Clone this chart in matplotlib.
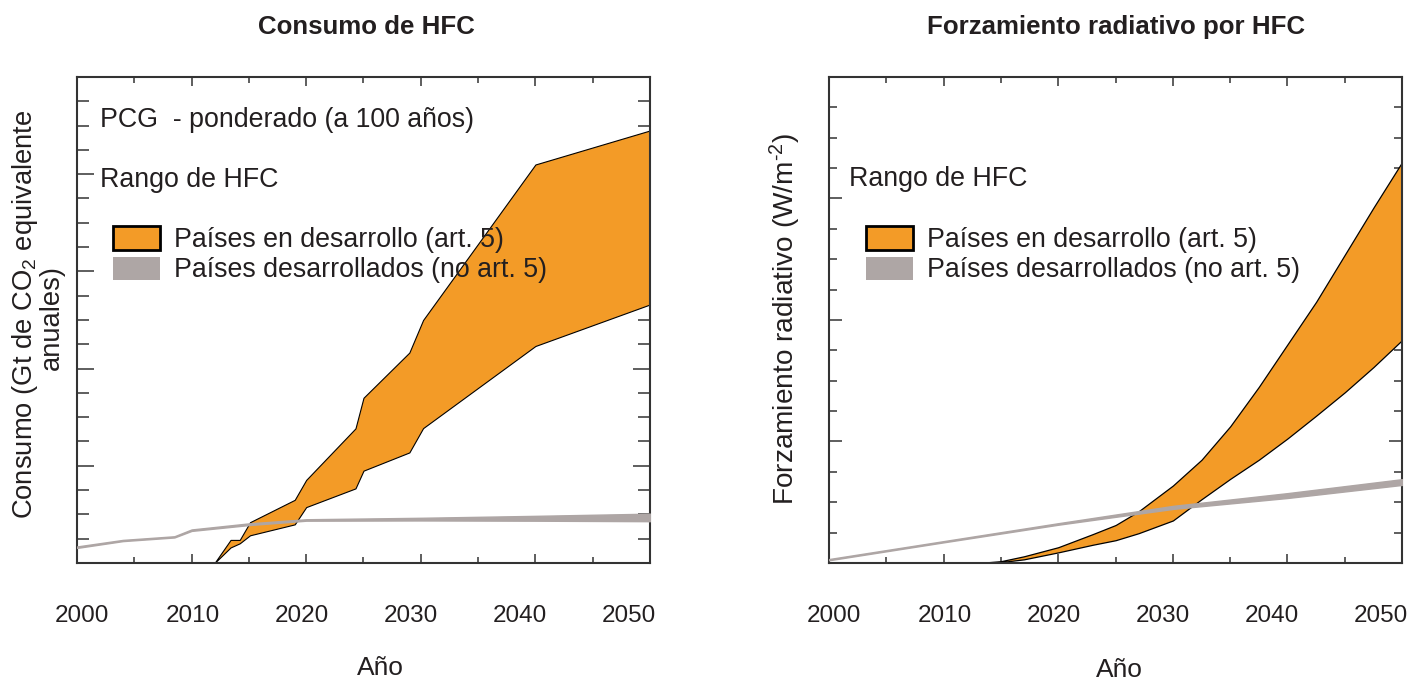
"""Consumo de HFC y forzamiento radiativo por HFC"""

import matplotlib
matplotlib.use("Agg")
import matplotlib.pyplot as plt
from matplotlib.patches import Rectangle
from matplotlib.ticker import MultipleLocator
from matplotlib.transforms import ScaledTranslation

plt.rcParams["font.family"] = ["Liberation Sans", "DejaVu Sans"]
plt.rcParams["mathtext.fontset"] = "custom"
plt.rcParams["mathtext.rm"] = "Liberation Sans"
plt.rcParams["mathtext.it"] = "Liberation Sans"

ORANGE = "#f39b27"
GREY = "#aea6a5"
INK = "#231f20"
SPINE = "#333333"

# consumo (panel izquierdo), unidades arbitrarias 0-20
cons_years = [2012, 2013.4, 2014.2, 2015.1, 2019, 2020, 2024.3, 2025, 2029, 2030.2, 2040, 2050]
cons_dev_upper = [0, 0.95, 0.95, 1.68, 2.6, 3.42, 5.54, 6.8, 8.66, 10.0, 16.4, 17.8]
cons_dev_lower = [0, 0.64, 0.81, 1.14, 1.59, 2.3, 3.07, 3.8, 4.55, 5.55, 8.93, 10.64]

cons_grey_years = [2000, 2004, 2008.5, 2010, 2015, 2020, 2030, 2040, 2050]
cons_grey_upper = [0.68, 0.95, 1.1, 1.38, 1.63, 1.80, 1.86, 1.94, 2.03]
cons_grey_lower = [0.62, 0.90, 1.05, 1.32, 1.56, 1.74, 1.75, 1.74, 1.72]

# forzamiento radiativo (panel derecho), unidades arbitrarias 0-16
rf_years = [2013, 2015, 2017, 2020, 2023, 2025, 2027, 2030, 2032.5, 2035,
            2037.5, 2040, 2042.5, 2045, 2047.5, 2050]
rf_dev_upper = [0, 0.06, 0.22, 0.52, 0.95, 1.25, 1.7, 2.55, 3.4, 4.5,
                5.8, 7.2, 8.6, 10.15, 11.7, 13.2]
rf_dev_lower = [0, 0.03, 0.12, 0.35, 0.6, 0.75, 0.98, 1.4, 2.1, 2.77,
                3.4, 4.1, 4.85, 5.62, 6.45, 7.34]

rf_grey_years = [2000, 2010, 2020, 2030, 2040, 2050]
rf_grey_upper = [0.13, 0.72, 1.31, 1.88, 2.30, 2.76]
rf_grey_lower = [0.09, 0.68, 1.26, 1.78, 2.14, 2.57]

year_ticks = [2000, 2010, 2020, 2030, 2040, 2050]
# the printed labels sit slightly inward of their ticks (pixels)
label_shift = [5, 1, -4, -10, -16, -21]

legend_labels = ["Países en desarrollo (art. 5)", "Países desarrollados (no art. 5)"]
TXT = 19.3


def style_axes(ax, ymax, ymajor, ylen):
    ax.set_xlim(2000, 2050)
    ax.set_ylim(0, ymax)
    ax.set_xticks(year_ticks)
    ax.set_xticklabels([str(y) for y in year_ticks])
    ax.xaxis.set_minor_locator(MultipleLocator(5))
    ax.yaxis.set_major_locator(MultipleLocator(ymajor))
    ax.yaxis.set_minor_locator(MultipleLocator(1))
    ax.set_yticklabels([])
    ax.tick_params(axis="both", which="both", direction="in", top=True, right=True,
                   color=SPINE, width=1.1)
    ax.tick_params(axis="x", which="major", length=6.5, pad=30, labelsize=17.5, labelcolor=INK)
    ax.tick_params(axis="x", which="minor", length=4.3)
    ax.tick_params(axis="y", which="major", length=ylen[0])
    ax.tick_params(axis="y", which="minor", length=ylen[1])
    for s in ax.spines.values():
        s.set_color(SPINE)
        s.set_linewidth(1.5)
    for lbl, dx in zip(ax.get_xticklabels(), label_shift):
        lbl.set_transform(lbl.get_transform() + ScaledTranslation(dx / 100, 0, fig.dpi_scale_trans))


def add_legend(ax, x0):
    ax.add_patch(Rectangle((x0, 0.645), 0.082, 0.048, transform=ax.transAxes,
                           facecolor=ORANGE, edgecolor="black", lw=2, clip_on=False))
    ax.add_patch(Rectangle((x0, 0.583), 0.082, 0.047, transform=ax.transAxes,
                           facecolor=GREY, edgecolor="none", clip_on=False))
    tx = x0 + 0.106
    ax.text(tx, 0.665, legend_labels[0], transform=ax.transAxes, fontsize=TXT,
            color=INK, va="center", ha="left")
    ax.text(tx, 0.603, legend_labels[1], transform=ax.transAxes, fontsize=TXT,
            color=INK, va="center", ha="left")


fig = plt.figure(figsize=(14.1, 6.82), dpi=100)
ax1 = fig.add_axes([0.0546, 0.1745, 0.4064, 0.7126])
ax2 = fig.add_axes([0.588, 0.1745, 0.4064, 0.7126])

# panel izquierdo
ax1.fill_between(cons_years, cons_dev_lower, cons_dev_upper, facecolor=ORANGE,
                 edgecolor="black", lw=0.8, zorder=2)
ax1.fill_between(cons_grey_years, cons_grey_lower, cons_grey_upper, facecolor=GREY,
                 edgecolor=GREY, lw=1.0, zorder=3)
style_axes(ax1, 20, 4, (12, 8.6))
ax1.text(0.040, 0.9115, "PCG  - ponderado (a 100 años)", transform=ax1.transAxes,
         fontsize=TXT, color=INK, va="center")
ax1.text(0.040, 0.788, "Rango de HFC", transform=ax1.transAxes,
         fontsize=TXT, color=INK, va="center")
add_legend(ax1, 0.0628)

# panel derecho
ax2.fill_between(rf_years, rf_dev_lower, rf_dev_upper, facecolor=ORANGE,
                 edgecolor="black", lw=0.9, zorder=2)
ax2.fill_between(rf_grey_years, rf_grey_lower, rf_grey_upper, facecolor=GREY,
                 edgecolor=GREY, lw=1.0, zorder=3)
style_axes(ax2, 16, 4, (9.4, 5.8))
ax2.text(0.035, 0.790, "Rango de HFC", transform=ax2.transAxes,
         fontsize=TXT, color=INK, va="center")
add_legend(ax2, 0.0646)

# titulos y ejes
fig.text(0.260, 0.960, "Consumo de HFC", fontsize=18.6, fontweight="bold",
         color=INK, ha="center", va="center")
fig.text(0.7915, 0.960, "Forzamiento radiativo por HFC", fontsize=18.6, fontweight="bold",
         color=INK, ha="center", va="center")
fig.text(0.0177, 0.540, "Consumo (Gt de CO$_2$ equivalente", rotation=90,
         fontsize=19.7, color=INK, ha="center", va="center")
fig.text(0.0369, 0.534, "anuales)", rotation=90,
         fontsize=19.7, color=INK, ha="center", va="center")
fig.text(0.5567, 0.532, r"Forzamiento radiativo (W/m$^{\text{-}2}$)", rotation=90,
         fontsize=20.2, color=INK, ha="center", va="center")
fig.text(0.2695, 0.0205, "Año", fontsize=19, color=INK, ha="center", va="center")
fig.text(0.794, 0.0176, "Año", fontsize=19, color=INK, ha="center", va="center")

fig.savefig("out.png", dpi=100)
